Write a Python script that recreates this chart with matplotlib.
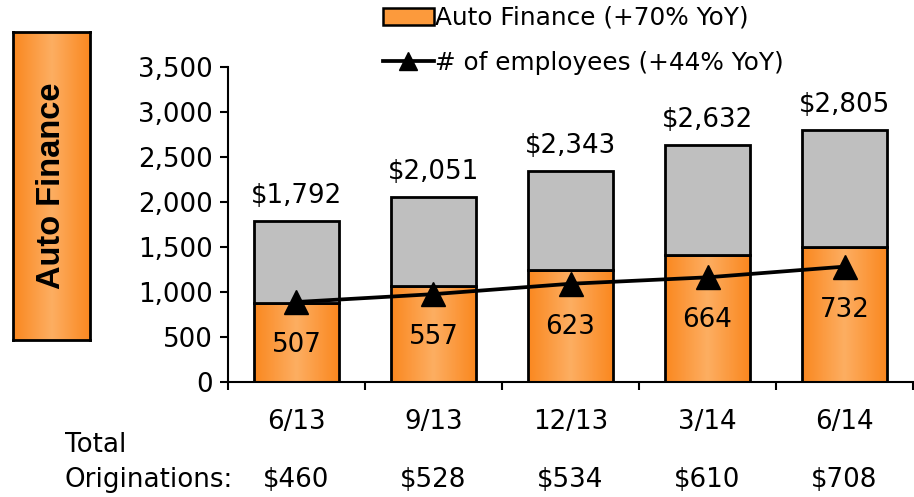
import matplotlib
matplotlib.use("Agg")
import matplotlib.pyplot as plt
import numpy as np
from matplotlib.patches import Patch
from matplotlib.lines import Line2D

# ─── data ────────────────────────────────────────────────────────────────────
quarters = ["6/13", "9/13", "12/13", "3/14", "6/14"]
auto_finance = [880, 1065, 1245, 1405, 1503]      # orange part
total_book = [1792, 2051, 2343, 2632, 2805]       # bar total
employees = [507, 557, 623, 664, 732]             # line, secondary axis
total_orig = ["$460", "$528", "$534", "$610", "$708"]

ORANGE_EDGE = "#FA8820"
ORANGE_MID = "#FDAE62"
GRAY = "#BFBFBF"
FS = 18.8

plt.rcParams["font.family"] = "DejaVu Sans"

fig = plt.figure(figsize=(9.14, 4.97), dpi=100)
ax = fig.add_axes([228 / 914, 1 - 381.7 / 497, 685 / 914, 314.4 / 497])

# horizontal orange gradient (dark edges, light centre)
cmap = matplotlib.colors.LinearSegmentedColormap.from_list(
    "og", [ORANGE_EDGE, ORANGE_MID, ORANGE_EDGE])
grad = np.linspace(0, 1, 64).reshape(1, -1)

x = np.arange(len(quarters))
w = 0.62
gray_part = [t - a for t, a in zip(total_book, auto_finance)]

for xi, a in zip(x, auto_finance):
    ax.imshow(grad, cmap=cmap, aspect="auto", extent=(xi - w / 2, xi + w / 2, 0, a),
              zorder=1)
ax.bar(x, auto_finance, w, facecolor="none", edgecolor="black", linewidth=2.0, zorder=2)
ax.bar(x, gray_part, w, bottom=auto_finance, facecolor=GRAY, edgecolor="black",
       linewidth=2.0, zorder=2)

for xi, t in zip(x, total_book):
    ax.annotate(f"${t:,}", (xi, t), xytext=(0, 18), textcoords="offset points",
                ha="center", va="center", fontsize=FS)

ax.set_xlim(-0.5, len(quarters) - 0.5)
ax.set_ylim(0, 3500)
ax.set_yticks(range(0, 3501, 500))
ax.set_yticklabels([f"{v:,}" for v in range(0, 3501, 500)], fontsize=FS)
ax.set_xticks(np.arange(-0.5, len(quarters)), labels=[""] * (len(quarters) + 1))
ax.set_xticks(x, labels=quarters, minor=True, fontsize=FS)
ax.tick_params(axis="x", which="major", length=6, width=1.5, direction="out")
ax.tick_params(axis="x", which="minor", length=0, pad=20)
ax.tick_params(axis="y", length=6, width=1.5, pad=5)
for s in ["top", "right"]:
    ax.spines[s].set_visible(False)
for s in ["left", "bottom"]:
    ax.spines[s].set_linewidth(1.5)

# employees on hidden secondary axis
ax2 = ax.twinx()
ax2.set_ylim(0, 2000)
ax2.axis("off")
ax2.plot(x, employees, color="black", linewidth=2.7, marker="^", markersize=17)
for xi, e in zip(x, employees):
    ax2.annotate(str(e), (xi, e), xytext=(0, -31), textcoords="offset points",
                 ha="center", va="center", fontsize=FS)

# legend
handles = [Patch(facecolor="#FC9A3C", edgecolor="black", linewidth=1.8),
           Line2D([], [], color="black", linewidth=2.7, marker="^", markersize=13)]
fig.legend(handles, ["Auto Finance (+70% YoY)", "# of employees (+44% YoY)"],
           loc="upper left", bbox_to_anchor=(383 / 914, 1 - 6 / 497), frameon=False,
           fontsize=17.8, handlelength=2.05, handletextpad=0.05, labelspacing=0.85,
           borderpad=0, borderaxespad=0)

# bottom row: Total Originations
fig.text(65 / 914, 1 - 445 / 497, "Total", fontsize=FS, va="center", ha="left")
fig.text(65 / 914, 1 - 480 / 497, "Originations:", fontsize=FS, va="center", ha="left")
for xi, t in zip(x, total_orig):
    ax.annotate(t, (xi, 0), xycoords=("data", "axes fraction"),
                xytext=(0, -98.3 * 0.72), textcoords="offset points",
                ha="center", va="center", fontsize=FS, annotation_clip=False)

# left title box
bax = fig.add_axes([12.7 / 914, 1 - 340 / 497, 77.3 / 914, 308.3 / 497])
bax.imshow(grad, cmap=cmap, aspect="auto", extent=(0, 1, 0, 1))
bax.set_xticks([])
bax.set_yticks([])
for s in bax.spines.values():
    s.set_linewidth(2)
bax.text(0.5, 0.5, "Auto Finance", rotation=90, ha="center", va="center",
         fontsize=23.5, fontweight="bold", family="Liberation Sans",
         transform=bax.transAxes)

fig.savefig("out.png", dpi=100)
